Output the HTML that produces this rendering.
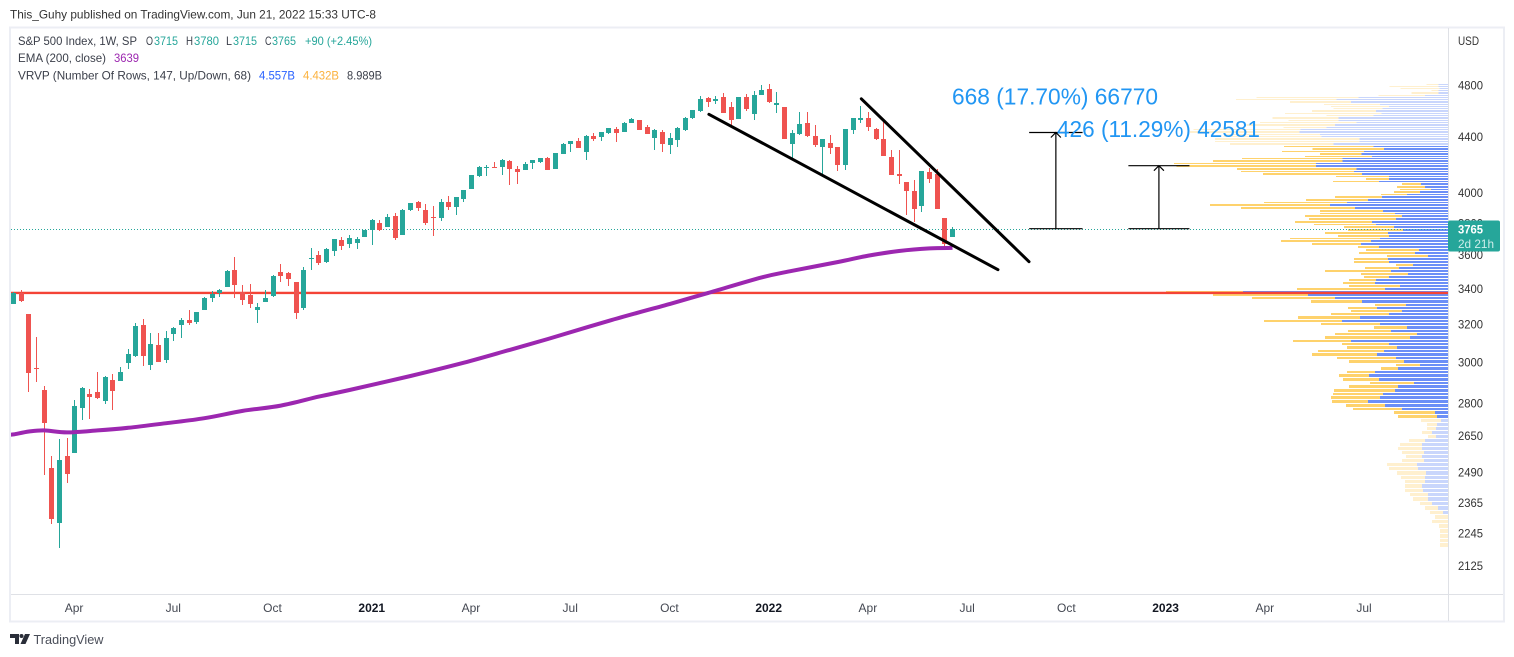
<!DOCTYPE html>
<html lang="en">
<head>
<meta charset="utf-8">
<title>S&amp;P 500 Index weekly chart</title>
<style>
html,body{margin:0;padding:0;background:#fff;width:1514px;height:657px;overflow:hidden}
svg{display:block;font-family:"Liberation Sans",sans-serif}
text{fill:#3b3f4a;font-size:12px}
</style>
</head>
<body>
<svg id="chart" width="1514" height="657" viewBox="0 0 1514 657" xmlns="http://www.w3.org/2000/svg">
  <rect x="0" y="0" width="1514" height="657" fill="#ffffff"/>
  <text x="10" y="18.5" textLength="366" lengthAdjust="spacingAndGlyphs" style="font-size:12px;fill:#333">This_Guhy published on TradingView.com, Jun 21, 2022 15:33 UTC-8</text>
  <rect x="10" y="27.5" width="1494" height="594" fill="none" stroke="#eceef4" stroke-width="2"/>
  <defs><clipPath id="pane"><rect x="11" y="29" width="1437.5" height="565"/></clipPath></defs>
  <g id="vrvp" shape-rendering="crispEdges" clip-path="url(#pane)"></g>
  <g id="levels" clip-path="url(#pane)"></g>
  <g id="candles" shape-rendering="crispEdges" clip-path="url(#pane)"></g>
  <g id="ema" clip-path="url(#pane)"></g>
  <g id="drawings" clip-path="url(#pane)"></g>
  <g id="measures" clip-path="url(#pane)"></g>

  <g>
    <text x="952" y="104.5" textLength="206" lengthAdjust="spacingAndGlyphs" style="font-size:23px;fill:#2196f3">668 (17.70%) 66770</text>
    <text x="1057" y="137" textLength="203" lengthAdjust="spacingAndGlyphs" style="font-size:23px;fill:#2196f3">426 (11.29%) 42581</text>
  </g>

  <g>
    <text x="18" y="45" textLength="119" lengthAdjust="spacingAndGlyphs">S&amp;P 500 Index, 1W, SP</text>
    <text x="146" y="45" textLength="7" lengthAdjust="spacingAndGlyphs">O</text>
    <text x="154" y="45" textLength="24" lengthAdjust="spacingAndGlyphs" style="fill:#26a69a">3715</text>
    <text x="186" y="45" textLength="7" lengthAdjust="spacingAndGlyphs">H</text>
    <text x="194" y="45" textLength="25" lengthAdjust="spacingAndGlyphs" style="fill:#26a69a">3780</text>
    <text x="226" y="45" textLength="6" lengthAdjust="spacingAndGlyphs">L</text>
    <text x="233" y="45" textLength="24" lengthAdjust="spacingAndGlyphs" style="fill:#26a69a">3715</text>
    <text x="265" y="45" textLength="6.5" lengthAdjust="spacingAndGlyphs">C</text>
    <text x="272" y="45" textLength="24" lengthAdjust="spacingAndGlyphs" style="fill:#26a69a">3765</text>
    <text x="305" y="45" textLength="67" lengthAdjust="spacingAndGlyphs" style="fill:#26a69a">+90 (+2.45%)</text>
    <text x="18" y="62" textLength="88" lengthAdjust="spacingAndGlyphs">EMA (200, close)</text>
    <text x="114" y="62" textLength="25" lengthAdjust="spacingAndGlyphs" style="fill:#9c27b0">3639</text>
    <text x="18" y="79.5" textLength="233" lengthAdjust="spacingAndGlyphs">VRVP (Number Of Rows, 147, Up/Down, 68)</text>
    <text x="259" y="79.5" textLength="36" lengthAdjust="spacingAndGlyphs" style="fill:#2962ff">4.557B</text>
    <text x="303" y="79.5" textLength="36" lengthAdjust="spacingAndGlyphs" style="fill:#fbb13c">4.432B</text>
    <text x="347" y="79.5" textLength="35" lengthAdjust="spacingAndGlyphs">8.989B</text>
  </g>

  <line x1="1448.5" y1="28" x2="1448.5" y2="621" stroke="#dfe1e6" stroke-width="1"/>
  <line x1="11" y1="594.5" x2="1503" y2="594.5" stroke="#dfe1e6" stroke-width="1"/>
  <text x="1458" y="45" textLength="21" lengthAdjust="spacingAndGlyphs" style="font-size:12px;fill:#333">USD</text>
  <g id="yticks"></g>
  <g id="xticks"></g>

  <g>
    <rect x="1448" y="220.5" width="52" height="31" rx="2" fill="#26a69a"/>
    <text x="1458" y="233.5" textLength="25" lengthAdjust="spacingAndGlyphs" style="fill:#fff;font-size:12px;font-weight:bold">3765</text>
    <text x="1458" y="248" textLength="36" lengthAdjust="spacingAndGlyphs" style="fill:#cdeeea;font-size:12px">2d 21h</text>
  </g>

  <g>
    <path fill="#2a2e39" d="M10 634h9v10h-4v-6h-5z"/>
    <circle cx="21.5" cy="636" r="2" fill="#2a2e39"/>
    <path fill="#2a2e39" d="M25 634h5l-4.5 10h-5z"/>
    <text x="33.5" y="644" textLength="70" lengthAdjust="spacingAndGlyphs" style="font-size:13px;fill:#4a4e59">TradingView</text>
  </g>
</svg>
<script>
// ---- price data (weekly OHLC) ----
const opens = [
3317,3378,3261,2976,2866,2512,2287,2563,2576,2780,
2847,2857,2813,2915,2910,3001,3037,3201,2991,3094,
3016,3152,3201,3228,3217,3283,3350,3379,3414,3514,
3385,3367,3283,3328,3362,3502,3496,3442,3295,3579,
3604,3561,3628,3697,3672,3678,3716,3761,3805,3780,
3851,3729,3890,3943,3890,3844,3837,3943,3910,3963,
4031,4121,4178,4185,4185,4227,4171,4164,4213,4220,
4249,4171,4278,4351,4373,4292,4410,4403,4433,4463,
4440,4508,4531,4479,4395,4440,4344,4380,4455,4547,
4601,4703,4679,4711,4632,4539,4711,4578,4727,4776,
4648,4632,4351,4425,4508,4410,4329,4358,4329,4199,
4455,4531,4547,4463,4388,4256,4135,4079,4017,3916,
4149,4135,3837,3715];
const highs = [
3385,3396,3261,3136,2886,2563,2638,2642,2818,2881,
2871,2955,2935,2945,2981,3073,3212,3234,3158,3158,
3169,3190,3239,3283,3272,3356,3391,3402,3514,3592,
3425,3431,3322,3396,3484,3549,3502,3442,3531,3647,
3628,3647,3703,3716,3729,3716,3761,3831,3824,3864,
3870,3897,3936,3949,3930,3916,3963,3983,3977,4024,
4128,4192,4199,4220,4241,4234,4192,4220,4234,4249,
4256,4285,4358,4373,4395,4418,4433,4440,4471,4479,
4516,4547,4531,4493,4463,4455,4433,4479,4555,4609,
4719,4711,4719,4743,4671,4711,4735,4760,4808,4816,
4751,4632,4455,4593,4593,4493,4388,4418,4329,4463,
4547,4640,4593,4471,4531,4307,4307,4079,4093,4157,
4178,4171,3837,3780];
const lows = [
3317,3328,2857,2905,2482,2284,2192,2449,2576,2724,
2729,2823,2799,2771,2910,2971,3032,2986,2966,3006,
3001,3115,3131,3201,3206,3283,3328,3356,3414,3350,
3311,3295,3212,3328,3356,3442,3419,3234,3283,3514,
3543,3555,3598,3635,3647,3641,3716,3666,3754,3780,
3697,3729,3884,3884,3792,3723,3818,3890,3857,3943,
4031,4114,4121,4178,4128,4059,4065,4164,4171,4213,
4164,4171,4278,4292,4321,4234,4373,4373,4425,4365,
4440,4508,4455,4425,4307,4292,4278,4329,4448,4539,
4593,4632,4656,4585,4493,4539,4601,4531,4727,4663,
4585,4388,4249,4418,4403,4329,4135,4278,4157,4164,
4425,4508,4448,4380,4263,4128,4065,3857,3811,3877,
4072,3897,3654,3715];
const closes = [
3378,3335,2950,2972,2710,2303,2546,2486,2790,2876,
2832,2828,2930,2862,2955,3047,3196,3037,3099,3006,
3131,3185,3228,3212,3272,3350,3373,3396,3508,3425,
3339,3317,3300,3350,3478,3478,3460,3267,3514,3585,
3555,3641,3703,3660,3710,3703,3761,3824,3761,3844,
3710,3890,3936,3903,3805,3837,3943,3910,3977,4024,
4128,4185,4185,4178,4234,4171,4149,4206,4234,4249,
4164,4285,4351,4373,4321,4410,4388,4440,4471,4433,
4508,4539,4455,4425,4455,4351,4395,4471,4547,4609,
4695,4671,4695,4585,4531,4711,4617,4727,4768,4671,
4663,4388,4433,4501,4410,4344,4388,4321,4199,4463,
4547,4547,4479,4388,4263,4128,4121,4017,3897,4157,
4100,3897,3672,3765];

// ---- 200-week EMA readings ----
const emaWeeks = [0,2,4,7,11,15,20,25,30,35,40,44,52,59,65,70,78,86,91,98,102,108,112,116,120,123];
const emaValues = [2658,2671,2676,2667,2676,2688,2709,2732,2766,2791,2834,2866,2935,3002,3068,3125,3223,3317,3379,3469,3508,3561,3600,3628,3644,3647];

// ---- volume profile, row 0 = lowest price ----
const vrvpUp = [
0,0,0,0,0,0,0,15,30,48,60,60,75,78,69,69,66,90,93,72,78,72,78,78,69,36,48,36,33,21,
33,39,138,189,240,204,195,159,150,102,207,237,219,150,84,132,156,213,192,153,177,291,114,93,171,123,204,318,264,177,
138,213,126,258,339,420,
615,189,144,219,216,177,120,171,147,105,177,180,60,99,87,207,261,231,204,177,180,135,162,216,228,156,138,159,195,279,
354,303,240,198,123,84,51,69,81,207,177,177,258,282,274,396,396,316,316,228,260,252,192,224,
344,266,266,379,384,446,442,364,339,274,329,329,224,199,216,196,177,204,291,334,269,69,28,28,26,28,28];
const vrvpDown = [
24,24,24,24,27,48,39,39,39,36,45,54,54,51,60,72,87,87,90,66,48,66,72,66,48,24,30,27,30,60,
117,123,147,117,108,147,150,183,147,132,108,90,84,51,72,165,177,195,198,150,141,174,255,246,129,99,177,234,186,174,
153,87,93,153,249,285,
231,264,153,96,81,75,141,198,102,51,105,102,123,168,159,63,147,270,270,153,189,165,150,186,231,261,291,225,189,342,
360,249,186,141,78,78,93,84,57,138,69,159,297,339,359,418,426,389,302,201,124,246,214,268,
310,433,433,295,280,328,322,130,265,290,150,197,140,290,192,148,174,168,183,302,305,140,81,21,116,148,36];
const vrvpRowStart = 2192;
const vrvpRowStep = 17.88;
const valueAreaFirstRow = 30;
const valueAreaLastRow = 119;

// ---- levels, drawings and tick labels ----
const lastPrice = [3765];
const supportLevel = [3379];
const trendWeeksLower = [91.09,128.96];
const trendPricesLower = [4575,3515];
const trendWeeksUpper = [111.06,133.03];
const trendPricesUpper = [4697,3563];
const measureWeeks = [136.6,150.1];
const measureTopPrices = [4436,4193];
const measureBasePrices = [3768,3768];
const measureHalfWidths = [3.5,4];
const priceTicks = [4800,4400,4000,3800,3600,3400,3200,3000,2800,2650,2490,2365,2245,2125];
const timeLabels = ['Apr','Jul','Oct','2021','Apr','Jul','Oct','2022','Apr','Jul','Oct','2023','Apr','Jul'];
const timeWeeks = [8,21,34,47,60,73,86,99,112,125,138,151,164,177];

const NS = 'http://www.w3.org/2000/svg';
const X0 = 13.6, STEP = 7.633;
function xAt(i){ return X0 + STEP * i; }
function yAt(p){ return 86 + 589.5 * Math.log(4800 / p); }
function mk(parent, tag, attrs){
  const el = document.createElementNS(NS, tag);
  for (const k in attrs) el.setAttribute(k, attrs[k]);
  document.getElementById(parent).appendChild(el);
  return el;
}

// volume profile
const RIGHT = 1448;
const VOL_SCALE = 1 / 3;
vrvpUp.forEach(function(up, k){
  const down = vrvpDown[k];
  const pLow = vrvpRowStart + vrvpRowStep * k;
  const pHigh = pLow + vrvpRowStep;
  const top = Math.round(yAt(pHigh));
  const h = Math.max(1, Math.round(yAt(pLow)) - top - 1);
  const strong = k >= valueAreaFirstRow && k <= valueAreaLastRow;
  const upW = up * VOL_SCALE, downW = down * VOL_SCALE;
  if (upW > 0) {
    const b = mk('vrvp', 'rect', {x: RIGHT - upW, y: top, width: upW, height: h, fill: strong ? '#6b8ff7' : '#c9d6fc'});
    
    
  }
  const d = mk('vrvp', 'rect', {x: RIGHT - upW - downW, y: top, width: downW, height: h, fill: strong ? '#fed26c' : '#fff0cf'});
  
  
});

// horizontal level + last price line
const lvl = mk('levels', 'line', {x1: 11, x2: 1448, y1: yAt(supportLevel[0]), y2: yAt(supportLevel[0]), stroke: '#f44336', 'stroke-width': 2.4});


const pl = mk('levels', 'line', {x1: 11, x2: 1448, y1: Math.floor(yAt(lastPrice[0])) + 0.5, y2: Math.floor(yAt(lastPrice[0])) + 0.5, stroke: '#26a69a', 'stroke-width': 1, 'stroke-dasharray': '1 2'});



// candles
opens.forEach(function(o, i){
  const c = closes[i];
  const col = c >= o ? '#26a69a' : '#ef5350';
  const cx = Math.floor(xAt(i));
  const yh = Math.round(yAt(highs[i])), yl = Math.round(yAt(lows[i]));
  const t = Math.round(yAt(Math.max(o, c))), b = Math.round(yAt(Math.min(o, c)));
  const w = mk('candles', 'rect', {x: cx, y: yh, width: 1, height: Math.max(1, yl - yh), fill: col});
  
  
  const r = mk('candles', 'rect', {x: cx - 2, y: t, width: 5, height: Math.max(1, b - t), fill: col});
  
  
});

// EMA, smoothed through the read values
const emaXY = emaWeeks.map(function(w, j){ return [xAt(w), yAt(emaValues[j])]; });
emaXY.unshift([10, yAt(emaValues[0])]);
let emaPath = 'M' + emaXY[0][0].toFixed(1) + ' ' + emaXY[0][1].toFixed(1);
for (let j = 0; j < emaXY.length - 1; j++) {
  const p0 = emaXY[Math.max(0, j - 1)], p1 = emaXY[j], p2 = emaXY[j + 1], p3 = emaXY[Math.min(emaXY.length - 1, j + 2)];
  const c1x = p1[0] + (p2[0] - p0[0]) / 6, c1y = p1[1] + (p2[1] - p0[1]) / 6;
  const c2x = p2[0] - (p3[0] - p1[0]) / 6, c2y = p2[1] - (p3[1] - p1[1]) / 6;
  emaPath += 'C' + c1x.toFixed(1) + ' ' + c1y.toFixed(1) + ' ' + c2x.toFixed(1) + ' ' + c2y.toFixed(1) + ' ' + p2[0].toFixed(1) + ' ' + p2[1].toFixed(1);
}
const emaLine = mk('ema', 'path', {d: emaPath, fill: 'none', stroke: '#9c27b0', 'stroke-width': 4, 'stroke-linejoin': 'round', 'stroke-linecap': 'butt'});



// trend lines
const tl = mk('drawings', 'line', {x1: xAt(trendWeeksLower[0]), y1: yAt(trendPricesLower[0]), x2: xAt(trendWeeksLower[1]), y2: yAt(trendPricesLower[1]), stroke: '#000', 'stroke-width': 3, 'stroke-linecap': 'round'});


const tu = mk('drawings', 'line', {x1: xAt(trendWeeksUpper[0]), y1: yAt(trendPricesUpper[0]), x2: xAt(trendWeeksUpper[1]), y2: yAt(trendPricesUpper[1]), stroke: '#000', 'stroke-width': 3, 'stroke-linecap': 'round'});



// measure tools
measureWeeks.forEach(function(w, j){
  const x = xAt(w) - 0.4;
  const hw = measureHalfWidths[j] * STEP;
  const yt = yAt(measureTopPrices[j]);
  const yb = yAt(measureBasePrices[j]);
  const d = 'M' + (x - hw) + ' ' + yt + 'H' + (x + hw) + 'M' + (x - hw) + ' ' + yb + 'H' + (x + hw) +
            'M' + x + ' ' + yb + 'V' + yt + 'M' + (x - 5) + ' ' + (yt + 5) + 'L' + x + ' ' + yt + 'L' + (x + 5) + ' ' + (yt + 5);
  const m = mk('measures', 'path', {d: d, fill: 'none', stroke: '#000', 'stroke-width': 1.2});
  
  
});

// price axis
priceTicks.forEach(function(p){
  const t = mk('yticks', 'text', {x: 1458, y: yAt(p) + 3.6, textLength: 25, lengthAdjust: 'spacingAndGlyphs', style: 'font-size:12px;fill:#333'});
  t.textContent = String(p);
  
  
});

// time axis
timeLabels.forEach(function(s, j){
  const isYear = /^\d+$/.test(s);
  const t = mk('xticks', 'text', {x: xAt(timeWeeks[j]) - 0.6, y: 612, 'text-anchor': 'middle', style: 'font-size:12px;fill:' + (isYear ? '#131722;font-weight:bold' : '#444852')});
  t.textContent = s;
  
  
});
</script>
</body>
</html>
